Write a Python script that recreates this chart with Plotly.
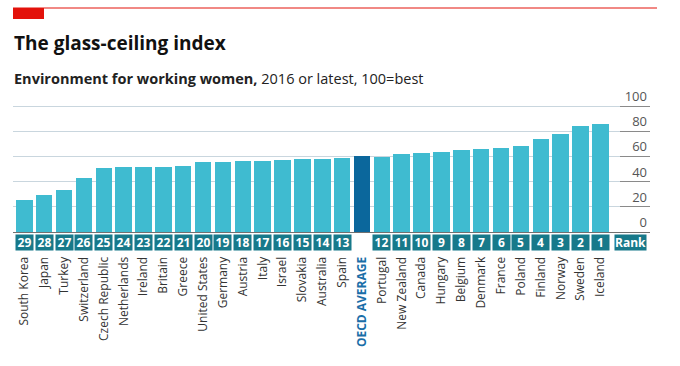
import plotly.graph_objects as go

countries = ["South Korea", "Japan", "Turkey", "Switzerland", "Czech Republic", "Netherlands",
             "Ireland", "Britain", "Greece", "United States", "Germany", "Austria", "Italy",
             "Israel", "Slovakia", "Australia", "Spain", "OECD AVERAGE", "Portugal",
             "New Zealand", "Canada", "Hungary", "Belgium", "Denmark", "France", "Poland",
             "Finland", "Norway", "Sweden", "Iceland"]
values = [25.2, 29.1, 33.1, 42.9, 50.6, 51.3, 51.6, 51.6, 52.4, 55.6, 55.9, 56.1, 56.6,
          57.4, 57.9, 58.2, 58.8, 60.1, 59.5, 62.2, 62.7, 63.8, 65.1, 65.9, 66.7, 68.3,
          73.8, 78.1, 84.4, 86.0]
ranks = ["29", "28", "27", "26", "25", "24", "23", "22", "21", "20", "19", "18", "17",
         "16", "15", "14", "13", "", "12", "11", "10", "9", "8", "7", "6", "5",
         "4", "3", "2", "1"]
y_ticks = [0, 20, 40, 60, 80, 100]

W, H = 680, 366
ML, MR, MT, MB = 13, 30, 101, 134
PW, PH = W - ML - MR, H - MT - MB

def px(x):
    return (x - ML) / PW

def py(y):
    return (H - MB - y) / PH

BAR = "#3fbbd0"
AVG = "#0b679c"
RANKC = "#17798a"
FONT = "Open Sans"

xs = list(range(len(countries)))
colors = [AVG if c == "OECD AVERAGE" else BAR for c in countries]
ticktext = ["<b><span style='color:#1a6ea8'>%s</span></b>" % c if c == "OECD AVERAGE" else c
            for c in countries]

fig = go.Figure(go.Bar(x=xs, y=values, marker=dict(color=colors, line=dict(width=0)),
                       width=0.83, hoverinfo="x+y"))

annotations = []
for i, r in enumerate(ranks):
    if r:
        annotations.append(dict(x=i, y=0, xref="x", yref="y", text="<b>%s</b>" % r,
                                showarrow=False, yanchor="top", yshift=-2,
                                width=17, height=15, bgcolor=RANKC, borderpad=0,
                                font=dict(family=FONT, size=12, color="white")))
annotations.append(dict(x=30.52, y=0, xref="x", yref="y", text="<b>Rank</b>",
                        showarrow=False, yanchor="top", yshift=-2,
                        width=31, height=15, bgcolor=RANKC, borderpad=0,
                        font=dict(family=FONT, size=12, color="white")))
annotations.append(dict(x=px(12), y=py(28), xref="paper", yref="paper",
                        text="<b>The glass-ceiling index</b>", showarrow=False,
                        xanchor="left", yanchor="top",
                        font=dict(family=FONT, size=19, color="#111")))
annotations.append(dict(x=px(12), y=py(67), xref="paper", yref="paper",
                        text="<b>Environment for working women,</b> 2016 or latest, 100=best",
                        showarrow=False, xanchor="left", yanchor="top",
                        font=dict(family=FONT, size=14.5, color="#222")))

shapes = [
    dict(type="line", xref="paper", yref="paper", x0=px(13), x1=px(657), y0=py(8), y1=py(8),
         line=dict(color="#e3120b", width=1)),
    dict(type="rect", xref="paper", yref="paper", x0=px(13), x1=px(44), y0=py(8), y1=py(19),
         fillcolor="#e3120b", line=dict(width=0)),
]

fig.update_layout(
    width=W, height=H, margin=dict(l=ML, r=MR, t=MT, b=MB),
    paper_bgcolor="white", plot_bgcolor="white", showlegend=False,
    bargap=0, annotations=annotations, shapes=shapes,
    xaxis=dict(range=[-0.57, 31.5], tickmode="array", tickvals=xs, ticktext=ticktext,
               tickangle=-90, showgrid=False, zeroline=False, showline=False,
               ticks="outside", ticklen=19, tickcolor="rgba(0,0,0,0)",
               tickfont=dict(family=FONT, size=12, color="#333"), fixedrange=True),
    yaxis=dict(range=[0, 104], tickmode="array", tickvals=y_ticks, side="right",
               ticklabelposition="inside top", ticklabeloverflow="allow",
               ticks="inside", ticklen=30, tickcolor="#8a8a8a", tickwidth=1,
               showgrid=True, gridcolor="#c9d6de", gridwidth=1,
               zeroline=True, zerolinecolor="#707070", zerolinewidth=1, showline=False,
               tickfont=dict(family=FONT, size=13, color="#555"), fixedrange=True),
    font=dict(family=FONT),
)

fig.write_html("out.html", config={"displayModeBar": False},
               post_script="document.body.style.margin='0';")
